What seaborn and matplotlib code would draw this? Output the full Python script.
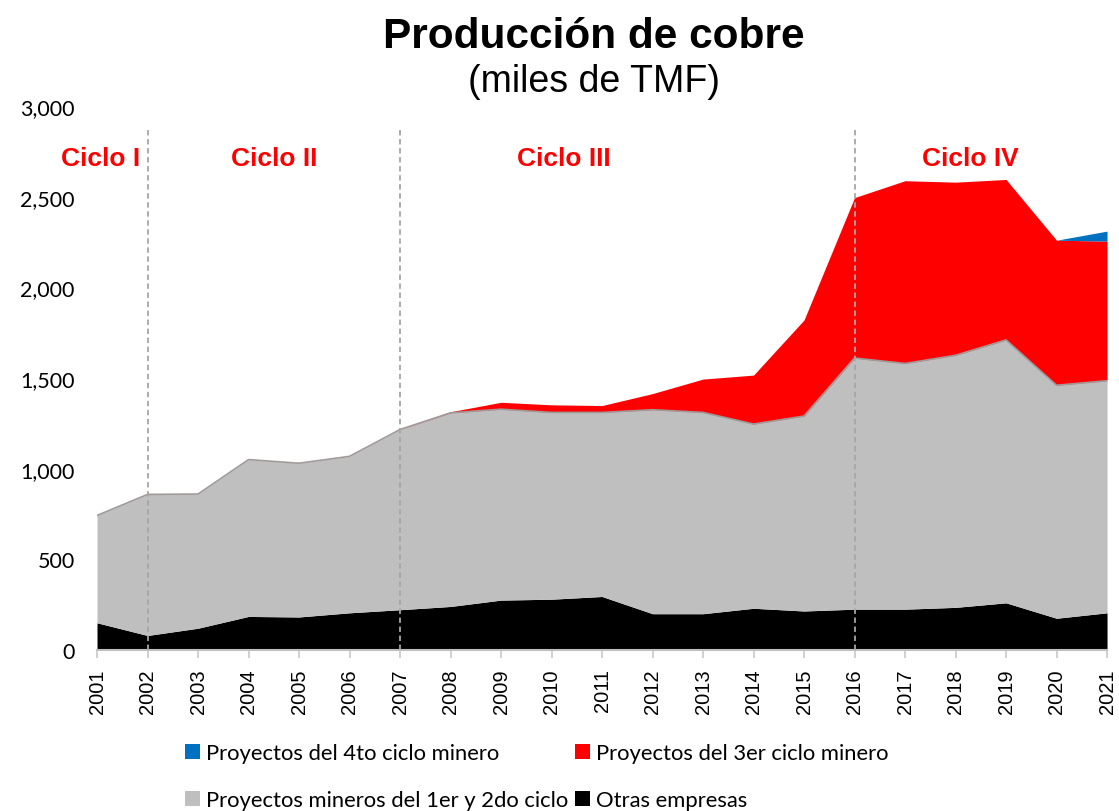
import matplotlib
matplotlib.use("Agg")
import matplotlib.pyplot as plt
from matplotlib.patches import Patch
from matplotlib.ticker import FuncFormatter
import seaborn as sns
import numpy as np
import pandas as pd

# Datos (miles de TMF)
years = [2001, 2002, 2003, 2004, 2005, 2006, 2007, 2008, 2009, 2010, 2011,
         2012, 2013, 2014, 2015, 2016, 2017, 2018, 2019, 2020, 2021]
otras = [150, 80, 120, 185, 182, 205, 222, 240, 275, 280, 295,
         200, 200, 230, 215, 225, 225, 235, 260, 175, 205]
ciclo_1y2 = [592, 778, 740, 865, 848, 863, 994, 1068, 1053, 1030, 1015,
             1125, 1110, 1016, 1075, 1385, 1355, 1390, 1450, 1285, 1280]
ciclo_3 = [0, 0, 0, 0, 0, 0, 0, 6, 38, 42, 38,
           89, 184, 270, 530, 885, 1008, 955, 885, 800, 770]
ciclo_4 = [0, 0, 0, 0, 0, 0, 0, 0, 0, 0, 0,
           0, 0, 0, 0, 0, 0, 0, 0, 0, 55]

series_labels = ['Otras empresas', 'Proyectos mineros del 1er y 2do ciclo',
                 'Proyectos del 3er ciclo minero', 'Proyectos del 4to ciclo minero']
series_colors = ['#000000', '#BFBFBF', '#FF0000', '#0070C0']

ciclo_names = ['Ciclo I', 'Ciclo II', 'Ciclo III', 'Ciclo IV']
ciclo_label_x = [2001.08, 2004.5, 2010.25, 2018.3]
ciclo_limits = [2002, 2007, 2016]

df = pd.DataFrame({
    series_labels[0]: otras,
    series_labels[1]: ciclo_1y2,
    series_labels[2]: ciclo_3,
    series_labels[3]: ciclo_4,
}, index=years)

sns.set_theme(style='white')
plt.rcParams['font.family'] = ['Liberation Sans', 'DejaVu Sans']
plt.rcParams['text.color'] = 'black'
plt.rcParams['xtick.color'] = 'black'
plt.rcParams['ytick.color'] = 'black'

fig = plt.figure(figsize=(11.19, 8.12), dpi=100)
ax = fig.add_axes([0.0867, 0.1983, 0.9026, 0.6699])

ax.stackplot(df.index, *[df[c] for c in series_labels],
             colors=series_colors, linewidth=0)

# borde superior del area gris
tope_gris = df[series_labels[0]] + df[series_labels[1]]
sns.lineplot(x=df.index, y=tope_gris, color='#a09a9a', lw=1.2, ax=ax)

# divisiones de ciclos
ax.vlines(ciclo_limits, 0, 2870, colors='#a6a6a6', linestyles=(0, (3, 2)),
          lw=1.3, zorder=5)
for nombre, xpos in zip(ciclo_names, ciclo_label_x):
    ax.text(xpos, 2677, nombre, color='#FF0000', fontsize=19, fontweight='bold',
            ha='center', va='baseline')

ax.set_xlim(2001, 2021)
ax.set_ylim(0, 3000)
ax.set_xticks(years)
ax.set_xticklabels([str(y) for y in years], rotation=90, fontsize=14.5)
ax.set_yticks(range(0, 3001, 500))
ax.yaxis.set_major_formatter(FuncFormatter(lambda v, p: f'{v:,.0f}'))
for lab in ax.get_yticklabels():
    lab.set_family(['Lato', 'DejaVu Sans'])
ax.tick_params(axis='y', left=False, length=0, pad=16, labelsize=15.5)
ax.tick_params(axis='x', bottom=True, length=6, width=1.2, color='#c8c8c8',
               direction='out', pad=7)
ax.set_xlabel('')
ax.set_ylabel('')
sns.despine(ax=ax, left=True)
ax.spines['bottom'].set_color('#bfbfbf')
ax.spines['bottom'].set_linewidth(1.5)

fig.text(594 / 1119, 1 - 48 / 812, 'Producción de cobre', ha='center',
         va='baseline', fontsize=30.5, fontweight='bold')
fig.text(594 / 1119, 1 - 92 / 812, '(miles de TMF)', ha='center',
         va='baseline', fontsize=27)

# leyenda (orden por columnas para que quede como en el original)
orden = [3, 1, 2, 0]
handles = [Patch(facecolor=series_colors[i], edgecolor='none') for i in orden]
labels = [series_labels[i] for i in orden]
fig.legend(handles, labels, loc='upper left',
           bbox_to_anchor=(185 / 1119, 1 - 744 / 812), ncol=2, frameon=False,
           prop={'family': ['Lato', 'DejaVu Sans'], 'size': 15.8},
           handlelength=0.7, handleheight=0.7, handletextpad=0.25,
           columnspacing=0.3, labelspacing=1.25, borderpad=0, borderaxespad=0)

fig.savefig('out.png', dpi=100)
